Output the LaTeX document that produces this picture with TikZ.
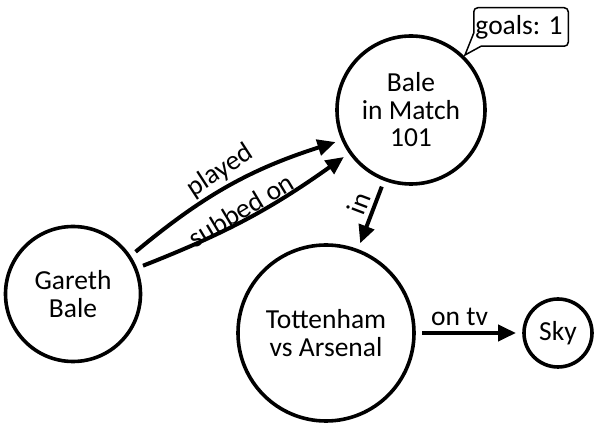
\documentclass[tikz,border=0pt]{standalone}
\usepackage{fontspec}
\setmainfont{Carlito}
\usetikzlibrary{arrows.meta}
\begin{document}
\begin{tikzpicture}[x=1pt,y=1pt,
  every node/.style={font=\fontsize{27.5}{27.5}\selectfont},
  entity/.style={circle, draw, line width=3.6pt, align=center, inner sep=0pt, outer sep=8pt},
  rel/.style={line width=4pt, -{Triangle[length=18pt,width=16pt]}},
  rellabel/.style={inner sep=0pt},
]
\useasboundingbox (0,0) rectangle (600,428);
\node[entity, minimum size=135pt] (g) at (73,134) {Gareth\\Bale};
\node[entity, minimum size=148pt] (b) at (411,318) {Bale\\in Match\\101};
\node[entity, minimum size=176pt] (t) at (326,95) {Tottenham\\vs Arsenal};
\node[entity, minimum size=68pt] (s) at (558,95) {Sky};

\draw[rel] (g.34) to[bend left=11] (b.203);
\draw[rel] (g.22) to[bend right=7] (b.215);
\node[rellabel, rotate=33] (lp) at (220,257) {played};
\node[rellabel, rotate=31] (ls) at (241,218) {subbed on};
\draw[rel] (b) -- node[sloped, above, inner sep=4pt, pos=.4] (li) {in} (t);
\draw[rel] (t) -- node[above, inner sep=5pt, pos=.4] (lt) {on tv} (s);

\node[inner sep=0pt] (goals) at (519,400.5) {goals: 1};
\draw[line width=1.5pt] (465,373) -- (481,381.75)
  [rounded corners=4pt] -- (568.25,381.75) -- (568.25,420.25) -- (473.75,420.25)
  [sharp corners] -- (473.75,395) -- cycle;
\end{tikzpicture}
\end{document}
